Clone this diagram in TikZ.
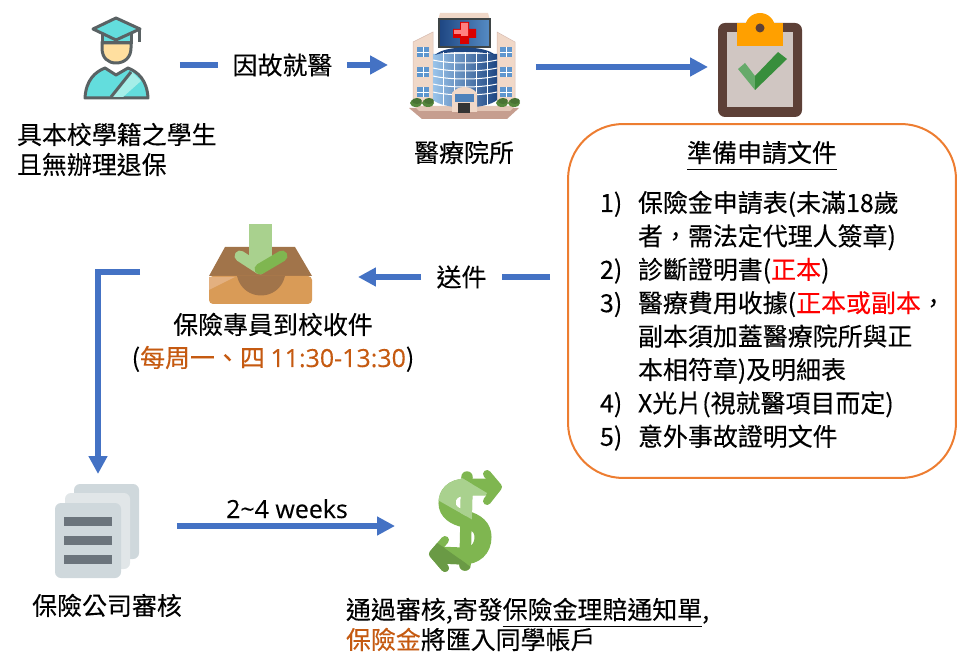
\documentclass[tikz,border=0pt]{standalone}
\usepackage{fontspec}
\setmainfont{Noto Sans CJK TC}[FakeBold=0.2]
\newfontfamily\latinfont{Open Sans}[FakeBold=0.2]
\usepackage{xcolor}
\usetikzlibrary{arrows.meta, positioning, calc}
\definecolor{FlowBlue}{RGB}{68, 114, 196}
\definecolor{BoxOrange}{RGB}{237, 125, 49}
\definecolor{NoteOrange}{RGB}{197, 90, 17}
\definecolor{IconGray}{RGB}{90, 98, 100}
\definecolor{GownTeal}{RGB}{99, 221, 221}
\definecolor{SashTeal}{RGB}{165, 238, 232}
\definecolor{SkinYellow}{RGB}{255, 223, 159}
\definecolor{WallBeige}{RGB}{240, 216, 200}
\definecolor{BaseRose}{RGB}{198, 158, 143}
\definecolor{GlassBlue}{RGB}{110, 170, 225}
\definecolor{GlassNavy}{RGB}{30, 70, 130}
\definecolor{TreeGreen}{RGB}{85, 135, 60}
\definecolor{BoardBrown}{RGB}{93, 64, 55}
\definecolor{PaperGray}{RGB}{208, 198, 194}
\definecolor{ClipAmber}{RGB}{255, 160, 0}
\definecolor{TickLight}{RGB}{102, 170, 106}
\definecolor{TickDark}{RGB}{56, 142, 60}
\definecolor{TrayBrown}{RGB}{161, 116, 74}
\definecolor{TrayTan}{RGB}{217, 155, 87}
\definecolor{TrayLight}{RGB}{227, 176, 128}
\definecolor{LeafLight}{RGB}{169, 209, 142}
\definecolor{LeafMid}{RGB}{127, 182, 80}
\definecolor{LeafDark}{RGB}{106, 154, 69}
\definecolor{PageBack}{RGB}{207, 216, 220}
\definecolor{PageMid}{RGB}{225, 230, 232}
\definecolor{PageBar}{RGB}{107, 116, 124}
\newcommand{\ulnote}[1]{\underline{\rule[-2.6pt]{0pt}{10pt}#1}}
\tikzset{
  iconbox/.style={rectangle, inner sep=0pt, outer sep=0pt},
  flowtext/.style={font=\fontsize{14.2}{14.2}\selectfont, text=black, inner sep=0pt, outer sep=0pt},
  seg/.style={line width=0.115cm, color=FlowBlue},
  arr/.style={-{Triangle[length=0.36cm, width=0.36cm]}, line width=0.115cm, color=FlowBlue},
  docbox/.style={rectangle, rounded corners=1.1cm, draw=BoxOrange, line width=0.04cm,
    minimum width=7.76cm, minimum height=7.08cm, inner sep=0pt},
  tick/.style={line width=0.16cm, line cap=round, line join=round},
}
\begin{document}
\begin{tikzpicture}[x=0.02cm, y=-0.02cm]
  \useasboundingbox (0,0) rectangle (962,671);
  % icon places, the connectors end on these
  \node[iconbox, minimum width=2.56cm, minimum height=2cm] (student) at (116,65) {};
  \node[iconbox, minimum width=2.96cm, minimum height=2.2cm] (hospital) at (462,67) {};
  \node[iconbox, minimum width=2.08cm, minimum height=2cm] (clipboard) at (760,67) {};
  \node[iconbox, minimum width=4.36cm, minimum height=1.6cm] (inbox) at (249,272) {};
  \node[iconbox, minimum width=3.16cm, minimum height=2.08cm] (review) at (98,526) {};
  \node[iconbox, minimum width=2.8cm, minimum height=2.08cm] (dollar) at (465,526) {};
  \node[docbox] (docs) at (762,301) {};
  \coordinate (sendfrom) at (550,277);

  % student
  \fill[GownTeal, draw=IconGray, line width=0.06cm, line join=round]
    (85,98) .. controls (86,80) and (95,72) .. (105,68) -- (116,75) -- (128,68)
    .. controls (138,72) and (147,80) .. (148,98) -- cycle;
  \fill[SashTeal] (112,97) -- (123,97) -- (141,81) -- (132,72) -- cycle;
  \draw[IconGray, line width=0.06cm] (111,97) -- (131,72);
  \fill[SkinYellow, draw=IconGray, line width=0.06cm]
    (102,43) -- (131,43) -- (131,48) .. controls (131,58) and (124,63) .. (116,63)
    .. controls (108,63) and (102,58) .. (102,48) -- cycle;
  \fill[GownTeal, draw=IconGray, line width=0.06cm] (102,32) rectangle (131,43);
  \fill[GownTeal, draw=IconGray, line width=0.06cm, line join=round]
    (116,18) -- (140,29) -- (116,40) -- (93,29) -- cycle;
  \draw[IconGray, line width=0.06cm] (139,29) -- (139,42);

  % hospital
  \fill[BaseRose] (409,108) -- (519,108) -- (507,119) -- (422,119) -- cycle;
  \fill[WallBeige!70!BaseRose] (414,106) -- (515,106) -- (510,111) -- (419,111) -- cycle;
  \fill[WallBeige, draw=BaseRose!70, line width=0.01cm] (413,42) -- (433,32) -- (433,104) -- (413,104) -- cycle;
  \fill[WallBeige, draw=BaseRose!70, line width=0.01cm] (497,32) -- (515,42) -- (515,104) -- (497,104) -- cycle;
  \foreach \wx in {417,500}
    \foreach \wy in {47,67,87} {
      \fill[GlassBlue!80!GlassNavy] (\wx,\wy) rectangle ++(12,10);
      \draw[white, line width=0.01cm] (\wx+6,\wy) -- ++(0,10) (\wx,\wy+5) -- ++(12,0);
    }
  \fill[WallBeige] (440,13) -- (488,13) -- (490,20) -- (438,20) -- cycle;
  \shade[left color=GlassNavy, right color=GlassBlue!70!GlassNavy, draw=IconGray!70!black, line width=0.03cm]
    (439,19) rectangle (490,47);
  \fill[red!85!black] (460,22) rectangle (469,44) (453,29) rectangle (476,38);
  \fill[red!50!white] (461,23) rectangle (468,36) (454,30) rectangle (464,34);
  \shade[left color=GlassBlue!70, right color=GlassNavy]
    (433,54) -- (497,54) -- (497,100) .. controls (485,110) and (445,110) .. (433,100) -- cycle;
  \fill[GlassNavy] (435,55) .. controls (445,45) and (485,45) .. (495,55) .. controls (485,51) and (445,51) .. (435,55);
  \foreach \gy in {60,68,76,84,92}
    \draw[white, line width=0.02cm] (433,\gy) .. controls (450,\gy+4) and (480,\gy+4) .. (497,\gy);
  \foreach \gx in {443,454,465,476,487}
    \draw[white, line width=0.02cm] (\gx,52) -- (\gx,105);
  \fill[WallBeige] (452,93) .. controls (458,85) and (470,85) .. (477,93) -- (477,112) -- (452,112) -- cycle;
  \fill[GlassBlue!60!GlassNavy] (455,94) rectangle (474,102);
  \fill[black!80] (458,103) rectangle (470,113);
  \foreach \tx in {411,423,497,509}
    \fill[TreeGreen] (\tx+5,103) ellipse (6 and 4);
  \foreach \tx in {417,429,503,515}
    \fill[TreeGreen!85!black] (\tx,101) ellipse (5 and 3);

  % clipboard
  \fill[BoardBrown, rounded corners=0.14cm] (718,23) rectangle (802,117);
  \fill[PaperGray] (727,32) rectangle (793,107);
  \fill[ClipAmber] (737,23) rectangle (783,46);
  \fill[ClipAmber] (760,28) circle (15);
  \fill[BoardBrown] (760,28) circle (4.5);
  \fill[TickLight] (738,69) -- (745,63) -- (755,76) -- (755,90) -- cycle;
  \fill[TickDark] (755,76) -- (778,52) -- (787,59) -- (755,90) -- cycle;

  % inbox
  \fill[TrayBrown] (225,247) -- (295,247) -- (312,276) -- (209,276) -- cycle;
  \fill[TrayTan, rounded corners=0.08cm] (209,276) rectangle (312,304);
  \fill[TrayLight] (209,277) -- (235,277) -- (209,290) -- cycle;
  \fill[TrayBrown] (237,276) .. controls (243,302) and (279,302) .. (285,276) -- cycle;
  \fill[LeafLight] (249,224) rectangle (272,264);
  \draw[LeafLight, line width=0.22cm, line cap=round] (240,256) -- (260,269);
  \draw[LeafMid, line width=0.22cm, line cap=round] (282,256) -- (260,269);

  % review pages
  \fill[PageBack, rounded corners=0.12cm] (74,484) rectangle (139,559);
  \fill[PageMid, rounded corners=0.12cm] (65,493) rectangle (130,569);
  \fill[PageBack, rounded corners=0.12cm] (55,503) rectangle (121,578);
  \foreach \by in {517,536,555}
    \fill[PageBar] (64,\by) rectangle (112,\by+9);

  % dollar
  \begin{scope}
    \clip (400,460) rectangle (520,580);
    \foreach \c in {LeafMid} {
      \draw[\c, line width=0.34cm] (494,487) -- (467,487) .. controls (452,487) and (447,495) .. (447,503)
        .. controls (447,512) and (455,517) .. (465,519) .. controls (477,522) and (483,528) .. (483,537)
        .. controls (483,549) and (475,556) .. (463,556) -- (438,555);
      \draw[\c, line width=0.23cm, line cap=round] (467,477) -- (465,565);
      \draw[\c, tick] (487,474) -- (498,487) -- (487,501);
      \draw[\c, tick] (445,540) -- (433,554) -- (445,568);
    }
    \clip (440,465) -- (487,493) -- (473,520) -- (420,490) -- cycle;
    \draw[LeafLight, line width=0.34cm] (494,487) -- (467,487) .. controls (452,487) and (447,495) .. (447,503)
      .. controls (447,512) and (455,517) .. (465,519);
    \draw[LeafLight, line width=0.23cm, line cap=round] (467,477) -- (465,565);
  \end{scope}
  \begin{scope}
    \clip (415,527) -- (475,570) -- (415,580) -- cycle;
    \draw[LeafDark, line width=0.34cm] (483,537)
      .. controls (483,549) and (475,556) .. (463,556) -- (438,555);
    \draw[LeafDark, line width=0.23cm, line cap=round] (467,477) -- (465,565);
    \draw[LeafDark, tick] (445,540) -- (433,554) -- (445,568);
  \end{scope}

  % texts
  \node[flowtext, anchor=base west] (studenta) at (17,144) {具本校學籍之學生};
  \node[flowtext, anchor=base west] (studentb) at (17,174) {且無辦理退保};
  \node[flowtext, minimum width=2.58cm, minimum height=0.6cm] (reason) at (282.5,65) {因故就醫};
  \node[flowtext, anchor=base] (hospitalname) at (464,162) {醫療院所};
  \node[flowtext, anchor=base] (docstitle) at (762,162) {\ulnote{準備申請文件}};
  \node[flowtext, minimum width=1.62cm, minimum height=0.6cm] (send) at (461.5,277) {送件};
  \node[flowtext, anchor=base] (inboxa) at (273,334) {保險專員到校收件};
  \node[flowtext, anchor=base] (inboxb) at (273,367)
    {(\textcolor{NoteOrange}{每周一、四 {\latinfont 11:30-13:30}})};
  \node[flowtext, anchor=base] (reviewname) at (107,615) {保險公司審核};
  \node[flowtext, anchor=base] (weeks) at (287,518) {\latinfont 2\textasciitilde 4 weeks};
  \node[flowtext, anchor=base west] (paida) at (346,619) {通過審核,寄發\ulnote{保險金理賠通知單},};
  \node[flowtext, anchor=base west] (paidb) at (346,649) {\textcolor{NoteOrange}{保險金}將匯入同學帳戶};
  \foreach \i/\num/\row in {
    0/{1)}/{保險金申請表(未滿18歲},
    1/{}/{者，需法定代理人簽章)},
    2/{2)}/{診斷證明書(\textcolor{red}{正本})},
    3/{3)}/{醫療費用收據(\textcolor{red}{正本或副本}，},
    4/{}/{副本須加蓋醫療院所與正},
    5/{}/{本相符章)及明細表},
    6/{4)}/{X光片(視就醫項目而定)},
    7/{5)}/{意外事故證明文件}}{
    \pgfmathsetmacro{\y}{212+\i*33.4}
    \node[flowtext, anchor=base west] (num\i) at (600,\y) {\num};
    \node[flowtext, anchor=base west] (item\i) at (638,\y) {\row};}

  % connectors
  \draw[seg] (student.east) -- (reason.west);
  \draw[arr] (reason.east) -- (reason.east -| hospital.west);
  \draw[arr] (hospital.east) -- (clipboard.west);
  \draw[seg] (sendfrom) -- (send.east);
  \draw[arr] (send.west) -- (send.west -| inbox.east);
  \draw[arr] (inbox.west) -- (inbox.west -| review.north) -- (review.north);
  \draw[arr] (review.east) -- (dollar.west);
\end{tikzpicture}
\end{document}
